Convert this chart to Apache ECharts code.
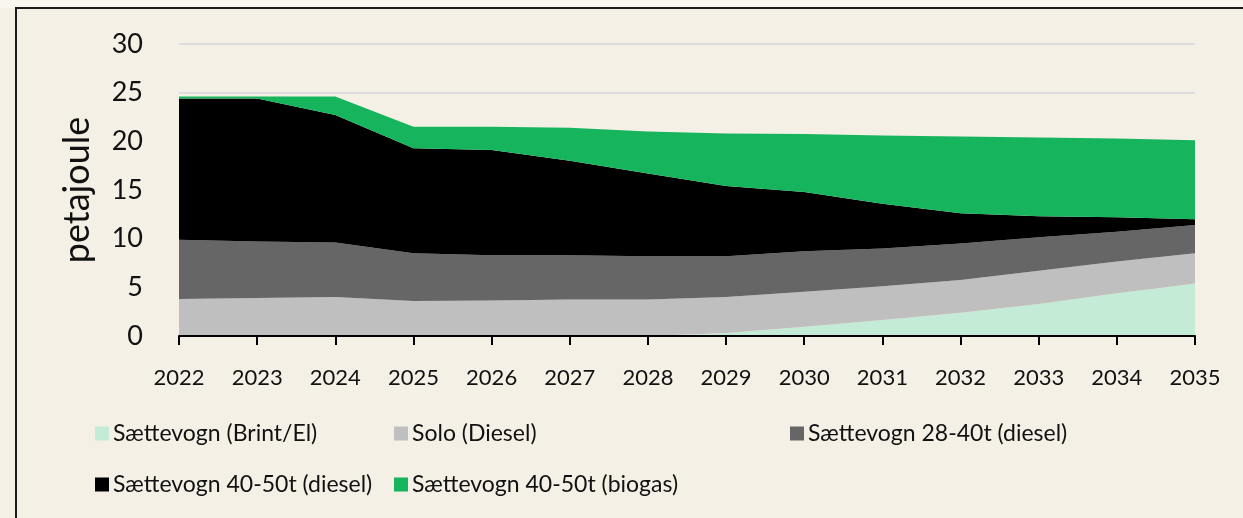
<!DOCTYPE html>
<html>
<head>
<meta charset="utf-8">
<script src="https://cdn.jsdelivr.net/npm/echarts@6/dist/echarts.min.js"></script>
<style>
  html, body { margin: 0; padding: 0; background: #f4f0e6; }
  #chart { width: 1243px; height: 518px; }
</style>
</head>
<body>
<div id="chart"></div>
<script>
// år på x-aksen
const years = ['2022','2023','2024','2025','2026','2027','2028','2029','2030','2031','2032','2033','2034','2035'];

// energiforbrug pr. køretøjstype (petajoule)
const brintEl     = [0, 0, 0, 0, 0, 0, 0, 0.3, 0.95, 1.65, 2.4, 3.3, 4.4, 5.4];
const soloDiesel  = [3.8, 3.9, 4.0, 3.6, 3.65, 3.75, 3.75, 3.7, 3.6, 3.45, 3.35, 3.4, 3.25, 3.1];
const saet2840    = [6.1, 5.8, 5.6, 4.9, 4.65, 4.55, 4.45, 4.2, 4.15, 3.9, 3.75, 3.45, 3.05, 2.9];
const saet4050D   = [14.5, 14.7, 13.1, 10.8, 10.8, 9.7, 8.5, 7.2, 6.1, 4.6, 3.1, 2.15, 1.5, 0.6];
const saet4050Bio = [0.2, 0.2, 1.9, 2.2, 2.4, 3.4, 4.3, 5.4, 5.95, 7.0, 7.9, 8.1, 8.1, 8.1];

const names = [
  'Sættevogn (Brint/El)',
  'Solo (Diesel)',
  'Sættevogn 28-40t (diesel)',
  'Sættevogn 40-50t (diesel)',
  'Sættevogn 40-50t (biogas)'
];
const colors = ['#c4ebd6', '#bfbfbf', '#666666', '#000000', '#16b55d'];
const values = [brintEl, soloDiesel, saet2840, saet4050D, saet4050Bio];

const fontFam = 'Lato, "Open Sans", sans-serif';

const chart = echarts.init(document.getElementById('chart'));

// en stablet arealserie pr. type
function areaSeries(i) {
  return {
    name: names[i],
    type: 'line',
    stack: 'total',
    data: values[i],
    showSymbol: false,
    symbol: 'none',
    lineStyle: { width: 0 },
    areaStyle: { color: colors[i], opacity: 1 },
    itemStyle: { color: colors[i] },
    emphasis: { disabled: true },
    z: 2
  };
}

function legendBox(left, data) {
  return {
    left: left,
    top: 422,
    padding: 0,
    orient: 'vertical',
    data: data,
    icon: 'rect',
    itemWidth: 14,
    itemHeight: 14,
    itemGap: 28,
    selectedMode: false,
    textStyle: { fontFamily: fontFam, fontSize: 23, color: '#111', padding: [0, 0, 0, -1] }
  };
}

const option = {
  backgroundColor: '#f4f0e6',
  animation: false,
  color: colors,
  graphic: [
    { type: 'rect', shape: { x: 0, y: 0, width: 1243, height: 8 }, style: { fill: '#f8f6ef' }, silent: true },
    { type: 'rect', shape: { x: 16, y: 8, width: 1300, height: 600 }, style: { fill: 'none', stroke: '#1a1a1a', lineWidth: 2 }, silent: true }
  ],
  grid: { left: 179, right: 48, top: 44, bottom: 182 },
  legend: [
    legendBox(95, [names[0], names[3]]),
    legendBox(394, [names[1], names[4]]),
    legendBox(790, [names[2]])
  ],
  xAxis: {
    type: 'category',
    data: years,
    boundaryGap: false,
    axisLine: { lineStyle: { color: '#000', width: 2 } },
    axisTick: { show: true, length: 9, lineStyle: { color: '#000', width: 2 } },
    axisLabel: { fontFamily: fontFam, fontSize: 22, color: '#111', margin: 31, interval: 0 },
    z: 5
  },
  yAxis: {
    type: 'value',
    min: 0,
    max: 30,
    interval: 5,
    name: 'petajoule',
    nameLocation: 'middle',
    nameGap: 84,
    nameTextStyle: { fontFamily: fontFam, fontSize: 36, color: '#111' },
    axisLine: { show: false },
    axisTick: { show: false },
    axisLabel: { fontFamily: fontFam, fontSize: 27, color: '#111', margin: 36 },
    splitLine: { lineStyle: { color: '#dcdcdc', width: 2 } }
  },
  series: [0, 1, 2, 3, 4].map(areaSeries)
};

chart.setOption(option);
</script>
</body>
</html>
